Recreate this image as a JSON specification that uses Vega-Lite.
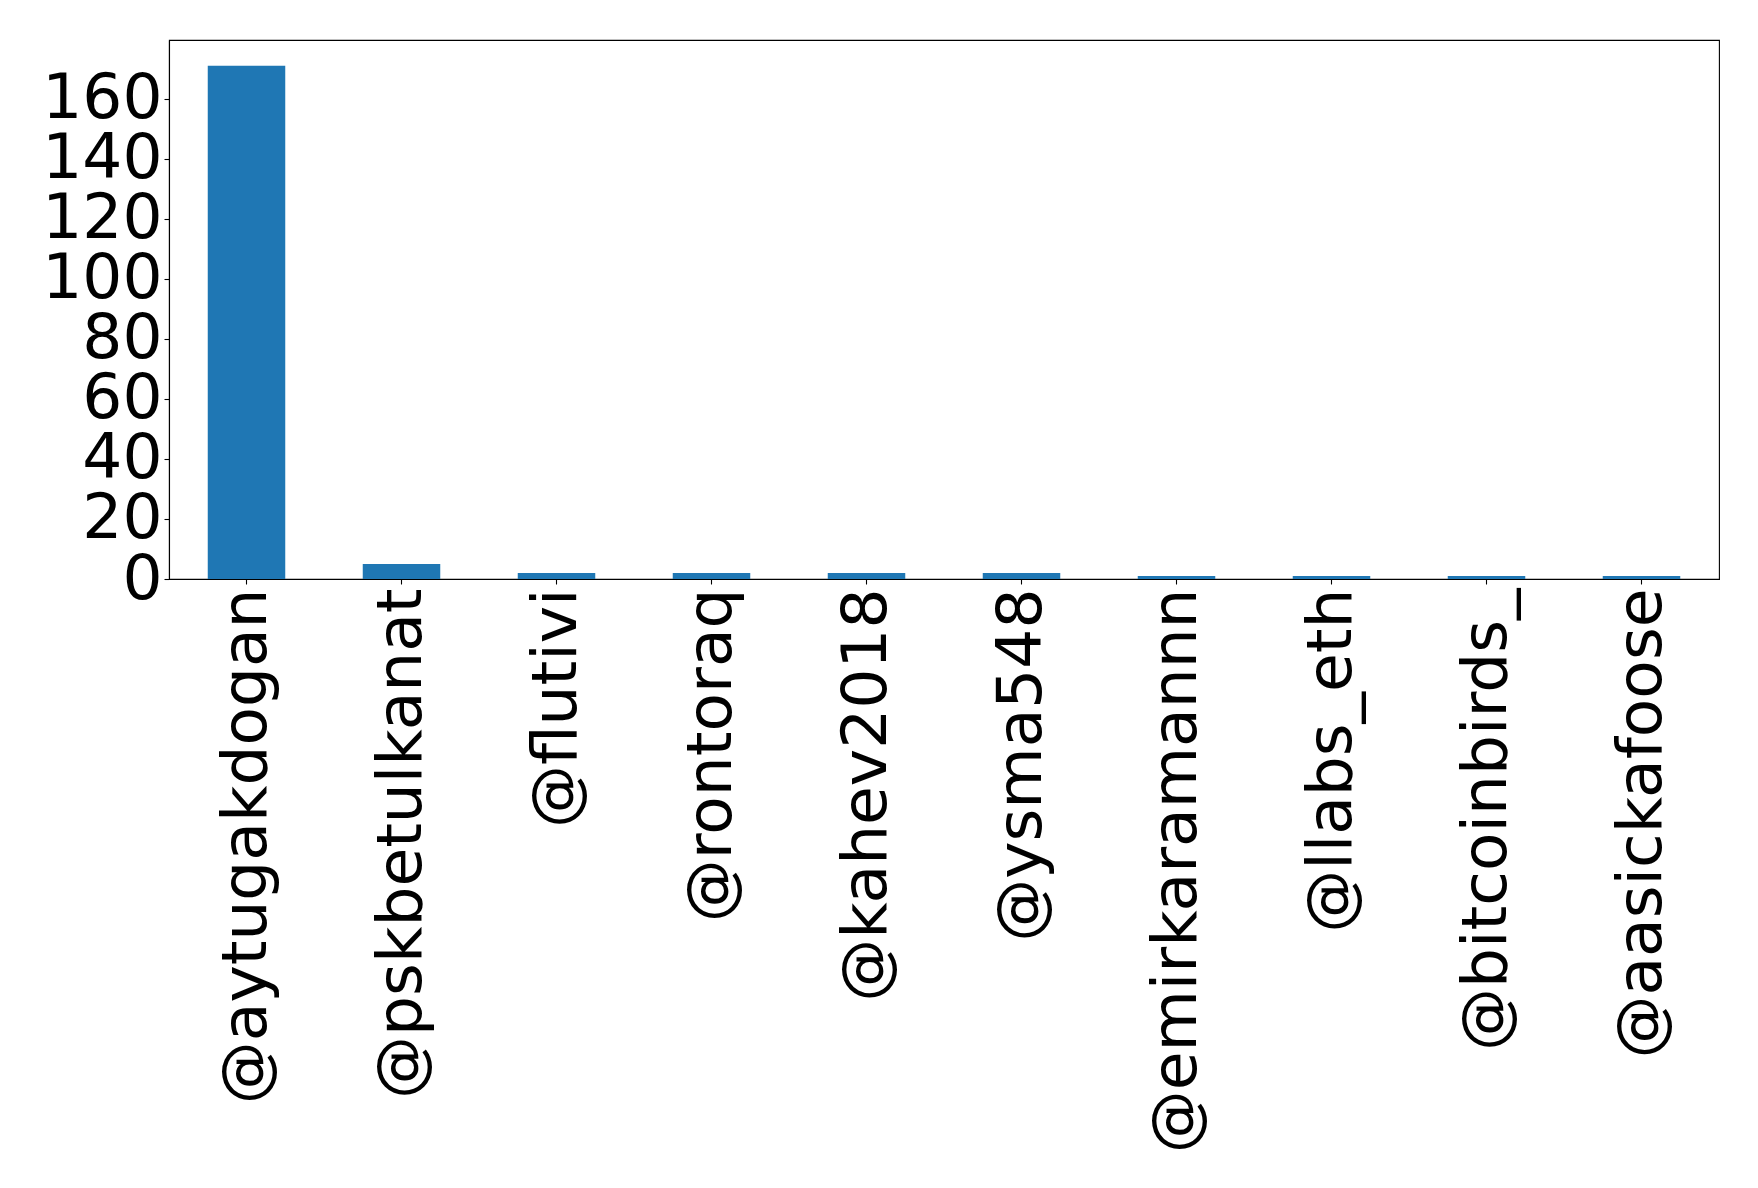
{
  "$schema": "https://vega.github.io/schema/vega-lite/v6.json",
  "width": 1550,
  "height": 539,
  "autosize": {"type": "none"},
  "padding": {"left": 169, "top": 40, "right": 39, "bottom": 609},
  "background": "white",
  "data": {"values": [
    {"user": "@aytugakdogan", "count": 171},
    {"user": "@pskbetulkanat", "count": 5},
    {"user": "@flutivi", "count": 2},
    {"user": "@rontoraq", "count": 2},
    {"user": "@kahev2018", "count": 2},
    {"user": "@ysma548", "count": 2},
    {"user": "@emirkaramannn", "count": 1},
    {"user": "@llabs_eth", "count": 1},
    {"user": "@bitcoinbirds_", "count": 1},
    {"user": "@aasickafoose", "count": 1}
  ]},
  "config": {
    "view": {"stroke": "black", "strokeWidth": 1.1},
    "font": "DejaVu Sans",
    "axis": {
      "labelFont": "DejaVu Sans",
      "labelFontSize": 63,
      "labelColor": "black",
      "labelLimit": 0,
      "labelOverlap": false,
      "labelFlush": false,
      "tickColor": "black",
      "tickSize": 5,
      "tickWidth": 1.1,
      "labelPadding": 4,
      "domainColor": "black",
      "domainWidth": 1.1,
      "grid": false,
      "title": null
    }
  },
  "mark": {"type": "bar", "color": "#1f77b4"},
  "encoding": {
    "x": {
      "field": "user",
      "type": "nominal",
      "sort": null,
      "scale": {"paddingInner": 0.5, "paddingOuter": 0.25},
      "axis": {"labelAngle": -90, "labelAlign": "right", "labelBaseline": "middle"}
    },
    "y": {
      "field": "count",
      "type": "quantitative",
      "scale": {"domain": [0, 179.55], "nice": false, "zero": true},
      "axis": {"values": [0, 20, 40, 60, 80, 100, 120, 140, 160], "labelBaseline": "middle", "labelPadding": 2}
    }
  }
}
